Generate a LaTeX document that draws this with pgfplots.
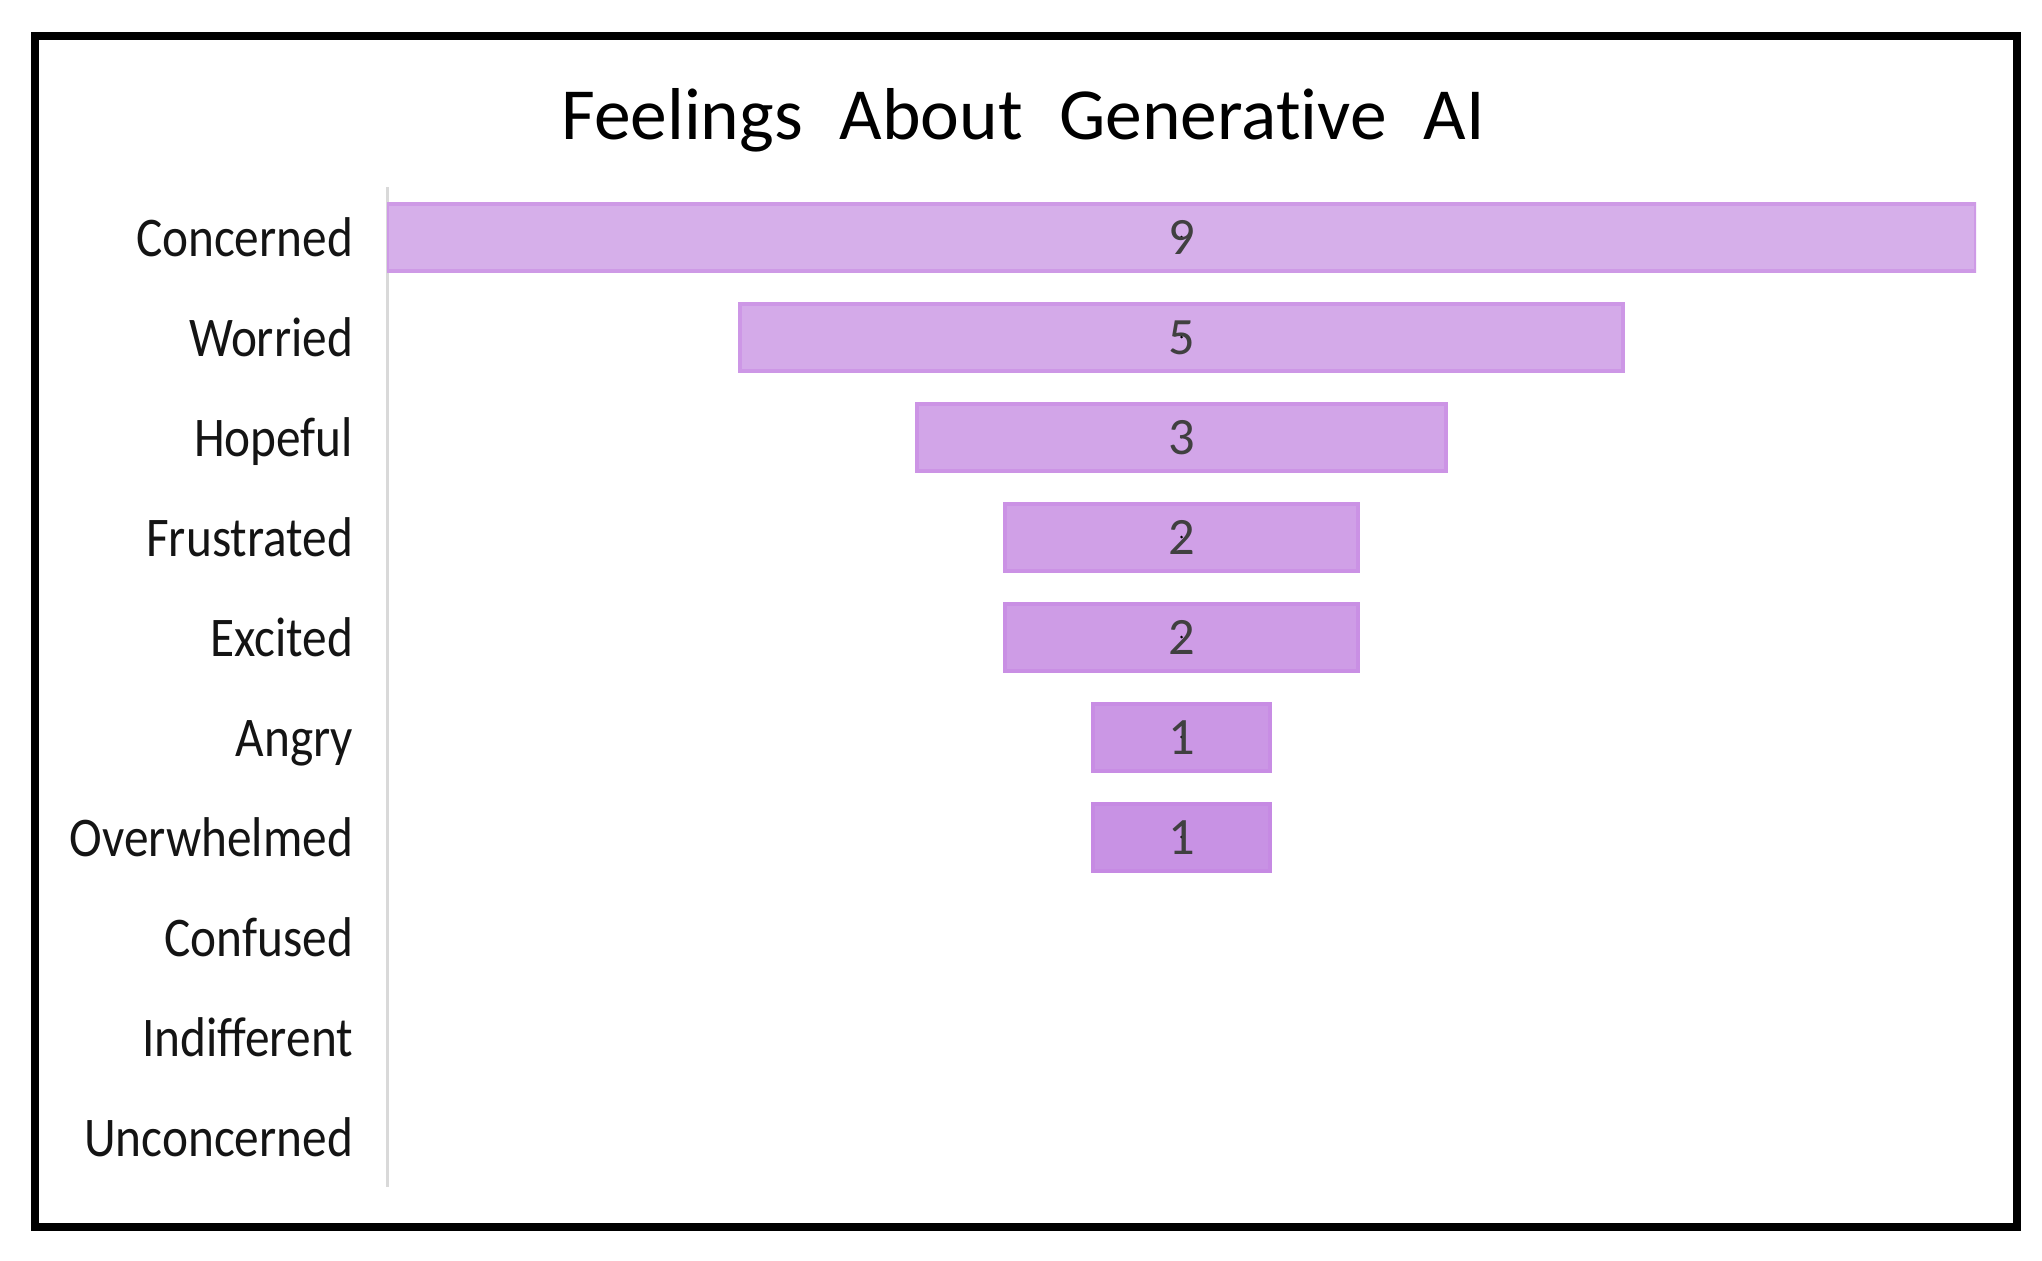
\documentclass[border=0pt]{standalone}
\usepackage{pgfplots}
\usepackage{pgfplotstable}
\pgfplotsset{compat=1.18}
\usepackage{fontspec}
\setmainfont{Carlito}[Ligatures=NoCommon]
\newfontfamily\labfont[FakeStretch=0.88]{Carlito}

\definecolor{b0}{RGB}{214,175,234}
\definecolor{b1}{RGB}{212,170,233}
\definecolor{b2}{RGB}{210,165,232}
\definecolor{b3}{RGB}{208,160,231}
\definecolor{b4}{RGB}{206,156,230}
\definecolor{b5}{RGB}{203,151,229}
\definecolor{b6}{RGB}{200,146,228}
\definecolor{edgec}{RGB}{196,128,226}
\definecolor{numgray}{RGB}{64,64,64}

\pgfplotstableread{
row off c0 c1 c2 c3 c4 c5 c6
0 0   9 0 0 0 0 0 0
1 2   0 5 0 0 0 0 0
2 3   0 0 3 0 0 0 0
3 3.5 0 0 0 2 0 0 0
4 3.5 0 0 0 0 2 0 0
5 4   0 0 0 0 0 1 0
6 4   0 0 0 0 0 0 1
7 -1  0 0 0 0 0 0 0
8 -1  0 0 0 0 0 0 0
9 -1  0 0 0 0 0 0 0
}\funnel

\pgfplotstableread{
row x v
0 4.5 9
1 4.5 5
2 4.5 3
3 4.5 2
4 4.5 2
5 4.5 1
6 4.5 1
}\labels

\pgfplotsset{
  funnelgeom/.style={
    at={(77.4pt,14.6pt)}, anchor=south west,
    scale only axis, width=317.8pt, height=200pt,
    xmin=0, xmax=9, ymin=-0.5, ymax=9.5, y dir=reverse,
  },
}

\begin{document}
\begin{tikzpicture}
\useasboundingbox (0,0) rectangle (408.4pt,252pt);
\fill[white] (0,0) rectangle (408.4pt,252pt);
\draw[line width=1.6pt] (7pt,6.6pt) rectangle (403.4pt,244.8pt);
\node[anchor=base, font=\fontsize{14.7}{17}\selectfont, inner sep=0pt] at (204.6pt,224pt)
  {\spaceskip=0.5em\relax Feelings About Generative AI};

\begin{axis}[
  funnelgeom,
  xbar stacked, bar width=13.4pt,
  axis x line=none, axis y line*=left,
  y axis line style={draw=black!15, line width=0.6pt},
  ytick={0,1,2,3,4,5,6,7,8,9},
  yticklabels={Concerned,Worried,Hopeful,Frustrated,Excited,Angry,Overwhelmed,Confused,Indifferent,Unconcerned},
  major tick length=0pt,
  yticklabel style={anchor=base east, yshift=-3.9pt, xshift=-6.6pt, inner sep=0pt,
    font=\labfont\fontsize{11.2}{13}\selectfont, text=black!92},
  clip=true,
]
\addplot[draw=none, fill=none] table[x=off, y=row]{\funnel};
\addplot[fill=b0, draw=b0!55!edgec, line width=0.8pt] table[x=c0, y=row]{\funnel};
\addplot[fill=b1, draw=b1!55!edgec, line width=0.8pt] table[x=c1, y=row]{\funnel};
\addplot[fill=b2, draw=b2!55!edgec, line width=0.8pt] table[x=c2, y=row]{\funnel};
\addplot[fill=b3, draw=b3!55!edgec, line width=0.8pt] table[x=c3, y=row]{\funnel};
\addplot[fill=b4, draw=b4!55!edgec, line width=0.8pt] table[x=c4, y=row]{\funnel};
\addplot[fill=b5, draw=b5!55!edgec, line width=0.8pt] table[x=c5, y=row]{\funnel};
\addplot[fill=b6, draw=b6!55!edgec, line width=0.8pt] table[x=c6, y=row]{\funnel};
\end{axis}

\begin{axis}[
  funnelgeom,
  hide axis,
]
\addplot[only marks, mark=*, mark size=0.01pt, mark options={draw=none, fill=none},
  nodes near coords, point meta=explicit symbolic,
  every node near coord/.append style={anchor=base, yshift=-3.4pt, inner sep=0pt,
    font=\fontsize{10.5}{12}\selectfont, text=numgray}]
  table[x=x, y=row, meta=v]{\labels};
\end{axis}
\end{tikzpicture}
\end{document}
